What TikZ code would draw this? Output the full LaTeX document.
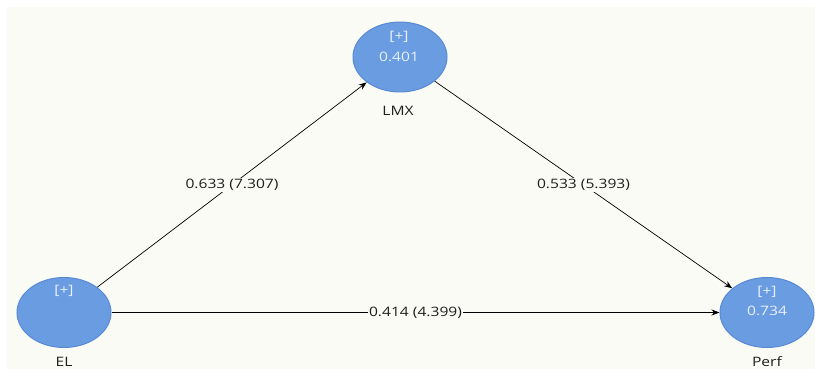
\documentclass[tikz,border=0pt]{standalone}
\usepackage{fontspec}
\setmainfont[FakeStretch=1.2]{Open Sans}
\usetikzlibrary{arrows.meta,shapes.geometric}
\definecolor{canvas}{RGB}{251,251,245}
\definecolor{lvfill}{RGB}{106,156,226}
\definecolor{lvdraw}{RGB}{88,138,212}
\definecolor{lvtext}{RGB}{232,240,251}
\definecolor{pathtext}{RGB}{30,30,30}
\tikzset{
  x=1pt, y=-1pt,
  latent/.style={ellipse, draw=lvdraw, line width=1pt, fill=lvfill,
    minimum width=94pt, minimum height=70pt, inner sep=0pt},
  lvlabel/.style={text=lvtext, font=\fontsize{13}{15}\selectfont, inner sep=0pt},
  caption/.style={text=pathtext, font=\fontsize{13}{15}\selectfont, inner sep=0pt},
  slink/.style={draw=black, line width=0.7pt, -{Stealth[length=8pt,width=6pt]}},
  coef/.style={fill=canvas, text=pathtext, font=\fontsize{13}{15}\selectfont,
    inner sep=1.5pt}
}
\begin{document}
\begin{tikzpicture}
  % canvas with white frame at the top and left
  \useasboundingbox (0,0) rectangle (815,369);
  \fill[white] (0,0) rectangle (815,369);
  \fill[canvas] (7,7) rectangle (815,369);

  % latent variables
  \node[latent] (LMX) at (400,57) {};
  \node[latent] (EL) at (64,312.5) {};
  \node[latent] (Perf) at (767,312.5) {};

  % contents of the ellipses
  \node[lvlabel] (LMXplus) at (399,37) {[+]};
  \node[lvlabel] (LMXr2) at (399,57) {0.401};
  \node[lvlabel] (ELplus) at (64,291) {[+]};
  \node[lvlabel] (Perfplus) at (767,292) {[+]};
  \node[lvlabel] (Perfr2) at (767,311) {0.734};

  % names below the ellipses
  \node[caption] (LMXname) at (398,111) {LMX};
  \node[caption] (ELname) at (64,362) {EL};
  \node[caption] (Perfname) at (767,362) {Perf};

  % structural paths
  \draw[slink] (EL) -- node[coef, pos=0.5] {0.633 (7.307)} (LMX);
  \draw[slink] (LMX) -- node[coef, pos=0.5] {0.533 (5.393)} (Perf);
  \draw[slink] (EL) -- node[coef, pos=0.5] {0.414 (4.399)} (Perf);
\end{tikzpicture}
\end{document}
